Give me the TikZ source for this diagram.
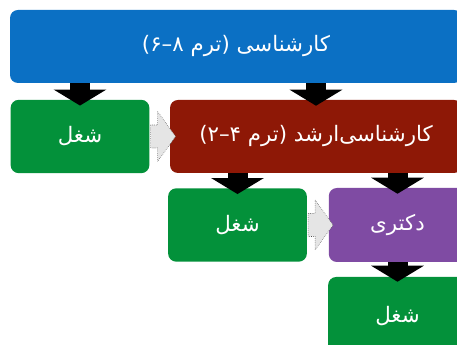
\documentclass[tikz,border=0pt]{standalone}
\usepackage{fontspec}
\newfontfamily\arabicfont[Script=Arabic]{DejaVu Sans}
\TeXXeTstate=1
\usetikzlibrary{arrows.meta,positioning}
\definecolor{bsblue}{HTML}{0B70C4}
\definecolor{jobgreen}{HTML}{03913A}
\definecolor{msred}{HTML}{8E1806}
\definecolor{phdpurple}{HTML}{7F4BA3}
\tikzset{
  box/.style={rectangle, rounded corners=6pt, text=white, inner sep=0pt,
    font=\arabicfont\fontsize{16}{19}\selectfont},
  job/.style={box, fill=jobgreen, minimum width=104pt, minimum height=55pt},
  down arrow/.style={line width=15pt, -{Triangle[length=12pt, width=39pt]}},
  side arrow/.style={densely dotted, draw=gray!60!black, fill=gray!20},
}
\newcommand{\fa}[1]{\beginR #1\endR}

\begin{document}
\begin{tikzpicture}[x=0.75pt, y=0.75pt]
  \useasboundingbox (0,0) rectangle (457,345);
  \clip (0,0) rectangle (457,345);

  % Boxes
  \node[box, fill=bsblue, minimum width=339pt, minimum height=54.75pt] (bs) at (236,298.5)
    {\fa{کارشناسی (ترم ۸–۶)}};
  \node[job] (job1) at (80,208.5) {\fa{شغل}};
  \node[box, fill=msred, minimum width=219pt, minimum height=54.75pt] (ms) at (316,208.5)
    {\fa{کارشناسی‌ارشد (ترم ۴–۲)}};
  \node[job] (job2) at (237.5,120) {\fa{شغل}};
  \node[box, fill=phdpurple, minimum width=103pt, minimum height=55.5pt] (phd) at (397.5,120)
    {\fa{دکتری}};
  \node[job, minimum height=58.5pt] (job3) at (397.5,29) {\fa{شغل}};

  % Down arrows
  \draw[down arrow] (bs.south -| job1) -- ([yshift=-4.5pt]job1.north);
  \draw[down arrow] (bs.south -| ms) -- ([yshift=-4.5pt]ms.north);
  \draw[down arrow] (ms.south -| job2) -- ([yshift=-4.5pt]job2.north);
  \draw[down arrow] (ms.south -| phd) -- ([yshift=-4.5pt]phd.north);
  \draw[down arrow] (phd.south) -- ([yshift=-3.75pt]job3.north);

  % Side arrows
  \draw[side arrow] (job1.east) ++(1,11.5) -- ++(7,0) -- ++(0,13.5) -- ++(18,-25)
    -- ++(-18,-25) -- ++(0,13.5) -- ++(-7,0) -- cycle;
  \draw[side arrow] (job2.east) ++(1,11.5) -- ++(7,0) -- ++(0,13.5) -- ++(18,-25)
    -- ++(-18,-25) -- ++(0,13.5) -- ++(-7,0) -- cycle;
\end{tikzpicture}
\end{document}
